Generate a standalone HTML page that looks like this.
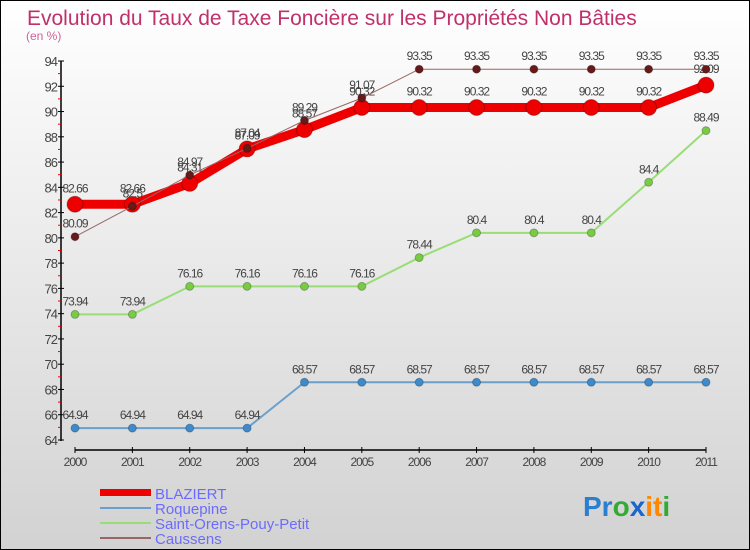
<!DOCTYPE html>
<html><head><meta charset="utf-8"><style>
body{margin:0;}
svg{display:block;font-family:"Liberation Sans",sans-serif;}
</style></head><body>
<svg id="c" width="750" height="550" viewBox="0 0 750 550">
<defs><linearGradient id="bg" x1="0" y1="0" x2="0" y2="1"><stop offset="0" stop-color="#ffffff"/><stop offset="1" stop-color="#d2d2d2"/></linearGradient></defs>
<rect x="0.5" y="0.5" width="749" height="549" fill="url(#bg)" stroke="#000"/>
<text x="27" y="25" font-size="21" fill="#c0306a">Evolution du Taux de Taxe Foncière sur les Propriétés Non Bâties</text>
<text x="26" y="40" font-size="12" fill="#d0609a">(en %)</text>
<g id="axes"></g><g id="series"></g>
<g>
<rect x="100" y="489" width="51" height="7" fill="#ee0000"/>
<text x="155" y="499" font-size="15" fill="#6b6bff">BLAZIERT</text>
<line x1="100" y1="508" x2="151" y2="508" stroke="#6b9fcc" stroke-width="2"/>
<text x="155" y="514" font-size="15" fill="#6b6bff">Roquepine</text>
<line x1="100" y1="523" x2="151" y2="523" stroke="#99dd77" stroke-width="2"/>
<text x="155" y="529" font-size="15" fill="#6b6bff">Saint-Orens-Pouy-Petit</text>
<line x1="100" y1="538" x2="151" y2="538" stroke="#996666" stroke-width="2"/>
<text x="155" y="544" font-size="15" fill="#6b6bff">Caussens</text>
</g>
<text x="583" y="516" font-size="28" font-weight="bold"><tspan fill="#2a7fd0">Pr</tspan><tspan fill="#33aa33">o</tspan><tspan fill="#1a66cc">x</tspan><tspan fill="#ff8800">it</tspan><tspan fill="#33aa33">i</tspan></text>
</svg>
<script>
const years=["2000","2001","2002","2003","2004","2005","2006","2007","2008","2009","2010","2011"];
const yTicks=[64,66,68,70,72,74,76,78,80,82,84,86,88,90,92,94];
const blaziert=[82.66,82.66,84.31,87.04,88.57,90.32,90.32,90.32,90.32,90.32,90.32,92.09];
const roquepine=[64.94,64.94,64.94,64.94,68.57,68.57,68.57,68.57,68.57,68.57,68.57,68.57];
const saintOrens=[73.94,73.94,76.16,76.16,76.16,76.16,78.44,80.4,80.4,80.4,84.4,88.49];
const caussens=[80.09,82.5,84.97,87.09,89.29,91.07,93.35,93.35,93.35,93.35,93.35,93.35];
const NS="http://www.w3.org/2000/svg";
const X0=75,X1=706,Y0=440,Y1=61,YMIN=64,YMAX=94;
const xs=i=>X0+(X1-X0)*i/(years.length-1);
const ys=v=>Y0-(v-YMIN)/(YMAX-YMIN)*(Y0-Y1);
function mk(p,t,a){const e=document.createElementNS(NS,t);for(const k in a)e.setAttribute(k,a[k]);p.appendChild(e);return e;}
const ax=document.getElementById('axes');
let l=mk(ax,'line',{x1:61,y1:Y1,x2:61,y2:Y0+1,stroke:'#000','stroke-width':1.5});


yTicks.forEach(v=>{const y=ys(v);
 mk(ax,'line',{x1:58,y1:y,x2:64,y2:y,stroke:'#000'});
 if(v<94)mk(ax,'line',{x1:58,y1:ys(v+1),x2:61,y2:ys(v+1),stroke:'#ee0000'});
 const t=mk(ax,'text',{x:57,y:y+5,'font-size':13,fill:'#444','text-anchor':'end','letter-spacing':'-1'});t.textContent=v;
 
 });
l=mk(ax,'line',{x1:X0,y1:450,x2:X1,y2:450,stroke:'#000','stroke-width':1.5});


years.forEach((yr,i)=>{const x=xs(i);mk(ax,'line',{x1:x,y1:447,x2:x,y2:453,stroke:'#000'});
 const t=mk(ax,'text',{x:x,y:466,'font-size':12,fill:'#444','text-anchor':'middle','letter-spacing':'-1'});t.textContent=yr;
 
 });
const sg=document.getElementById('series');
function series(name,vals,color,w,r,dot,lab){
 const g=mk(sg,'g',{});
 
 
 mk(g,'polyline',{points:vals.map((v,i)=>xs(i)+','+ys(v)).join(' '),fill:'none',stroke:color,'stroke-width':w,'stroke-linejoin':'round'});
 vals.forEach((v,i)=>{const c=mk(g,'circle',{cx:xs(i),cy:ys(v),r:r,fill:dot,stroke:'rgba(0,0,0,0.25)','stroke-width':1});
  
  
  const t=mk(g,'text',{x:xs(i),y:ys(v)-lab,'font-size':12,fill:'#444','text-anchor':'middle','letter-spacing':'-1'});t.textContent=String(v);
  
  });
}
series('roquepine',roquepine,'#6b9fcc',2,4,'#3d8acc',9);
series('saint-orens',saintOrens,'#99dd77',2,4,'#77cc44',9);
series('blaziert',blaziert,'#ee0000',9,8,'#ee0000',12);
series('caussens',caussens,'#996666',1,4,'#661a1a',9);
</script>
</body></html>
